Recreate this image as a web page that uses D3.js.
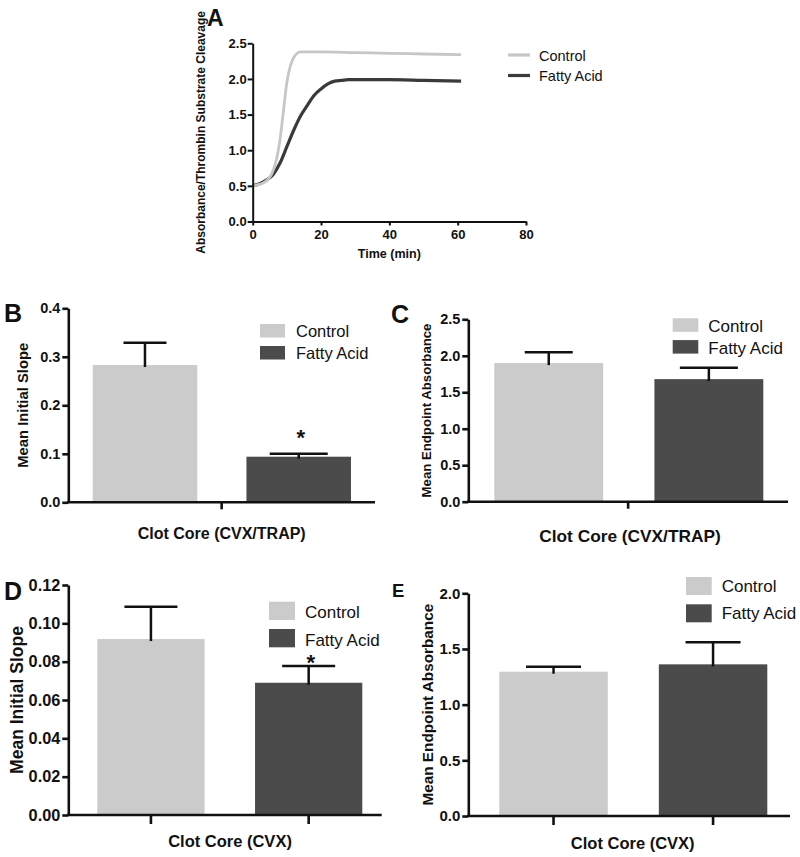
<!DOCTYPE html>
<html><head><meta charset="utf-8">
<script src="https://cdn.jsdelivr.net/npm/d3@7"></script>
<style>
body{margin:0;background:#fff}
svg{display:block}
text{font-family:"Liberation Sans",Arial,Helvetica,sans-serif;fill:#111}
.tick text{font-family:"Liberation Sans",Arial,Helvetica,sans-serif;font-weight:bold}
</style>
</head><body><svg id="c" width="800" height="857"></svg>
<script>
// ---------- DATA ----------
const groups = ["Control", "Fatty Acid"];

// Panel A: kinetic curves
const timeControlA = [0, 2, 4, 5, 6, 7, 7.5, 8, 9, 10, 11, 12, 13, 14, 16, 20, 30, 40, 50, 61];
const controlA     = [0.50, 0.52, 0.57, 0.62, 0.72, 0.88, 1.00, 1.15, 1.55, 1.95, 2.18, 2.30, 2.36, 2.38, 2.38, 2.38, 2.37, 2.36, 2.35, 2.34];
const timeFattyA   = [0, 2, 4, 6, 8, 10, 12, 14, 16, 18, 20, 22, 24, 26, 28, 30, 40, 50, 61];
const fattyA       = [0.50, 0.53, 0.58, 0.66, 0.82, 1.05, 1.28, 1.48, 1.63, 1.77, 1.86, 1.93, 1.97, 1.98, 1.99, 1.99, 1.99, 1.98, 1.97];
const xTicksA = [0, 20, 40, 60, 80];
const yTicksA = [0, 0.5, 1.0, 1.5, 2.0, 2.5];

// Panel B: mean initial slope (CVX/TRAP)
const meanB = [0.283, 0.094];
const errB  = [0.046, 0.006];
const sigB  = [false, true];
const yTicksB = [0, 0.1, 0.2, 0.3, 0.4];

// Panel C: mean endpoint absorbance (CVX/TRAP)
const meanC = [1.90, 1.68];
const errC  = [0.15, 0.155];
const sigC  = [false, false];
const yTicksC = [0, 0.5, 1.0, 1.5, 2.0, 2.5];

// Panel D: mean initial slope (CVX)
const meanD = [0.0918, 0.069];
const errD  = [0.0169, 0.0087];
const sigD  = [false, true];
const yTicksD = [0, 0.02, 0.04, 0.06, 0.08, 0.10, 0.12];

// Panel E: mean endpoint absorbance (CVX)
const meanE = [1.296, 1.362];
const errE  = [0.045, 0.198];
const sigE  = [false, false];
const yTicksE = [0, 0.5, 1.0, 1.5, 2.0];

// ---------- DRAW ----------
const svg = d3.select("#c");
const barColors = ["#cbcbcb", "#4b4b4b"];
const lineColors = ["#c6c6c6", "#3a3a3a"];

// ----- Panel A -----
(function(){
  const g = svg.append("g");
  const x = d3.scaleLinear().domain([0, 80]).range([252.7, 526]);
  const y = d3.scaleLinear().domain([0, 2.5]).range([221.5, 43.3]);
  const line = d3.line().x(d => x(d[0])).y(d => y(d[1])).curve(d3.curveMonotoneX);
  g.append("path").datum(timeFattyA.map((t, i) => [t, fattyA[i]]))
    .attr("d", line).attr("fill", "none").attr("stroke", lineColors[1]).attr("stroke-width", 3.2);
  g.append("path").datum(timeControlA.map((t, i) => [t, controlA[i]]))
    .attr("d", line).attr("fill", "none").attr("stroke", lineColors[0]).attr("stroke-width", 2.8);

  const ya = g.append("g").attr("transform", `translate(${x(0)},0)`)
    .call(d3.axisLeft(y).tickValues(yTicksA).tickFormat(d3.format(".1f")).tickSize(5).tickSizeOuter(0).tickPadding(1));
  const xa = g.append("g").attr("transform", `translate(0,${y(0)})`)
    .call(d3.axisBottom(x).tickValues(xTicksA).tickFormat(d3.format("d")).tickSize(4).tickSizeOuter(0).tickPadding(4));
  [ya, xa].forEach(a => {
    a.selectAll("path,line").attr("stroke", "#111").attr("stroke-width", 2);
    a.selectAll("text").attr("font-size", 13).attr("fill", "#111");
  });

  g.append("text").attr("transform", `translate(205,${(y(0) + y(2.5)) / 2}) rotate(-90)`)
    .attr("text-anchor", "middle").attr("font-size", 12).attr("font-weight", "bold")
    .text("Absorbance/Thrombin Substrate Cleavage");
  g.append("text").attr("x", x(40)).attr("y", 258).attr("text-anchor", "middle")
    .attr("font-size", 12.5).attr("font-weight", "bold").text("Time (min)");
  g.append("text").attr("x", 207).attr("y", 26).attr("font-size", 23).attr("font-weight", "bold").text("A");

  const lg = g.append("g");
  groups.forEach((name, i) => {
    const yy = 55 + i * 20.5;
    lg.append("line").attr("x1", 508).attr("x2", 530).attr("y1", yy).attr("y2", yy)
      .attr("stroke", lineColors[i]).attr("stroke-width", 3.2);
    lg.append("text").attr("x", 539).attr("y", yy + 5.5).attr("font-size", 14.5).text(name);
  });
})();

// ----- Bar panels -----
function barPanel(p) {
  const g = svg.append("g");
  const y = d3.scaleLinear().domain([0, p.yMax]).range([p.y0, p.y1]);
  const x = d3.scaleBand().domain(groups).range(p.barRange).paddingInner(0.32).paddingOuter(0);

  g.selectAll("rect.bar").data(groups).join("rect").attr("class", "bar")
    .attr("x", d => x(d)).attr("width", x.bandwidth())
    .attr("y", (d, i) => y(p.means[i])).attr("height", (d, i) => p.y0 - y(p.means[i]))
    .attr("fill", (d, i) => barColors[i]);

  // error bars
  groups.forEach((d, i) => {
    const cx = x(d) + x.bandwidth() / 2;
    const top = y(p.means[i] + p.errs[i]);
    g.append("line").attr("x1", cx).attr("x2", cx).attr("y1", y(p.means[i]) + 2).attr("y2", top)
      .attr("stroke", "#111").attr("stroke-width", 2.5);
    g.append("line").attr("x1", cx - p.caps[i] / 2).attr("x2", cx + p.caps[i] / 2).attr("y1", top).attr("y2", top)
      .attr("stroke", "#111").attr("stroke-width", 2.5);
    if (p.sig[i]) {
      g.append("text").attr("x", cx + 2).attr("y", top - p.sigGap).attr("text-anchor", "middle")
        .attr("font-size", 22).attr("font-weight", "bold").text("*");
    }
  });

  // y axis
  const ya = g.append("g").attr("transform", `translate(${p.x0},0)`)
    .call(d3.axisLeft(y).tickValues(p.ticks).tickFormat(d3.format(p.fmt)).tickSize(6).tickSizeOuter(0).tickPadding(2));
  ya.selectAll("path,line").attr("stroke", "#111").attr("stroke-width", 2.6);
  ya.selectAll("text").attr("font-size", p.tickFont).attr("fill", "#111");

  // x axis
  g.append("line").attr("x1", p.x0 - 1.3).attr("x2", p.x1).attr("y1", p.y0).attr("y2", p.y0)
    .attr("stroke", "#111").attr("stroke-width", 2.6);
  let tickScale;
  if (p.centerTick) {
    tickScale = d3.scaleBand().domain([p.xLabel]).range([p.x0, p.x1]);
  } else {
    tickScale = x;
  }
  const xa = g.append("g").attr("transform", `translate(0,${p.y0})`)
    .call(d3.axisBottom(tickScale).tickSize(p.xTickLen).tickSizeOuter(0).tickFormat(""));
  xa.select(".domain").remove();
  xa.selectAll("line").attr("stroke", "#111").attr("stroke-width", 2.6);

  // labels
  g.append("text").attr("x", p.xLabelPos[0]).attr("y", p.xLabelPos[1]).attr("text-anchor", "middle")
    .attr("font-size", p.xLabelFont).attr("font-weight", "bold").text(p.xLabel);
  g.append("text").attr("transform", `translate(${p.yLabelX},${(p.y0 + p.y1) / 2}) rotate(-90)`)
    .attr("text-anchor", "middle").attr("font-size", p.yLabelFont).attr("font-weight", "bold").text(p.yLabel);
  g.append("text").attr("x", p.letterPos[0]).attr("y", p.letterPos[1]).attr("font-size", p.letterFont)
    .attr("font-weight", "bold").text(p.letter);

  // legend
  const L = p.legend;
  groups.forEach((name, i) => {
    g.append("rect").attr("x", L.x).attr("y", L.y + i * L.gap).attr("width", L.w).attr("height", L.h)
      .attr("fill", barColors[i]);
    g.append("text").attr("x", L.tx).attr("y", L.y + i * L.gap + L.base).attr("font-size", L.font).text(name);
  });
}

barPanel({
  letter: "B", letterPos: [4, 322], letterFont: 25,
  x0: 68.3, x1: 375, y0: 502.3, y1: 308.3, yMax: 0.4, ticks: yTicksB, fmt: ".1f", tickFont: 14.5,
  barRange: [92.7, 351], means: meanB, errs: errB, caps: [43, 58], sig: sigB, sigGap: 9,
  centerTick: true, xTickLen: 7,
  xLabel: "Clot Core (CVX/TRAP)", xLabelPos: [221.7, 539], xLabelFont: 16,
  yLabel: "Mean Initial Slope", yLabelX: 28, yLabelFont: 14.8,
  legend: { x: 260, y: 324, w: 25, h: 13.5, gap: 22, tx: 296, base: 13, font: 16.5 }
});

barPanel({
  letter: "C", letterPos: [391, 323], letterFont: 25,
  x0: 468.3, x1: 788, y0: 501.7, y1: 319.3, yMax: 2.5, ticks: yTicksC, fmt: ".1f", tickFont: 14.5,
  barRange: [494.3, 763.3], means: meanC, errs: errC, caps: [48, 58], sig: sigC, sigGap: 9,
  centerTick: true, xTickLen: 7,
  xLabel: "Clot Core (CVX/TRAP)", xLabelPos: [630, 541.5], xLabelFont: 17.3,
  yLabel: "Mean Endpoint Absorbance", yLabelX: 430.5, yLabelFont: 13.2,
  legend: { x: 672.7, y: 318.3, w: 25.6, h: 13.5, gap: 21.8, tx: 708.3, base: 13.4, font: 17 }
});

barPanel({
  letter: "D", letterPos: [4, 600], letterFont: 25,
  x0: 68.3, x1: 381.7, y0: 815, y1: 585, yMax: 0.12, ticks: yTicksD, fmt: ".2f", tickFont: 16.3,
  barRange: [97.3, 362.3], means: meanD, errs: errD, caps: [53, 53], sig: sigD, sigGap: -4,
  centerTick: false, xTickLen: 9,
  xLabel: "Clot Core (CVX)", xLabelPos: [230, 847], xLabelFont: 16.5,
  yLabel: "Mean Initial Slope", yLabelX: 23, yLabelFont: 17.5,
  legend: { x: 269, y: 601.7, w: 26, h: 18.3, gap: 27.3, tx: 305, base: 16.5, font: 17 }
});

barPanel({
  letter: "E", letterPos: [392, 597], letterFont: 18.5,
  x0: 468.3, x1: 790, y0: 816, y1: 593.3, yMax: 2.0, ticks: yTicksE, fmt: ".1f", tickFont: 15,
  barRange: [499.3, 767.3], means: meanE, errs: errE, caps: [55, 55], sig: sigE, sigGap: 9,
  centerTick: false, xTickLen: 9,
  xLabel: "Clot Core (CVX)", xLabelPos: [632.7, 849], xLabelFont: 16.5,
  yLabel: "Mean Endpoint Absorbance", yLabelX: 433, yLabelFont: 15.3,
  legend: { x: 686, y: 577, w: 25.7, h: 18, gap: 27.3, tx: 721.7, base: 15, font: 17 }
});
</script>
</body></html>
